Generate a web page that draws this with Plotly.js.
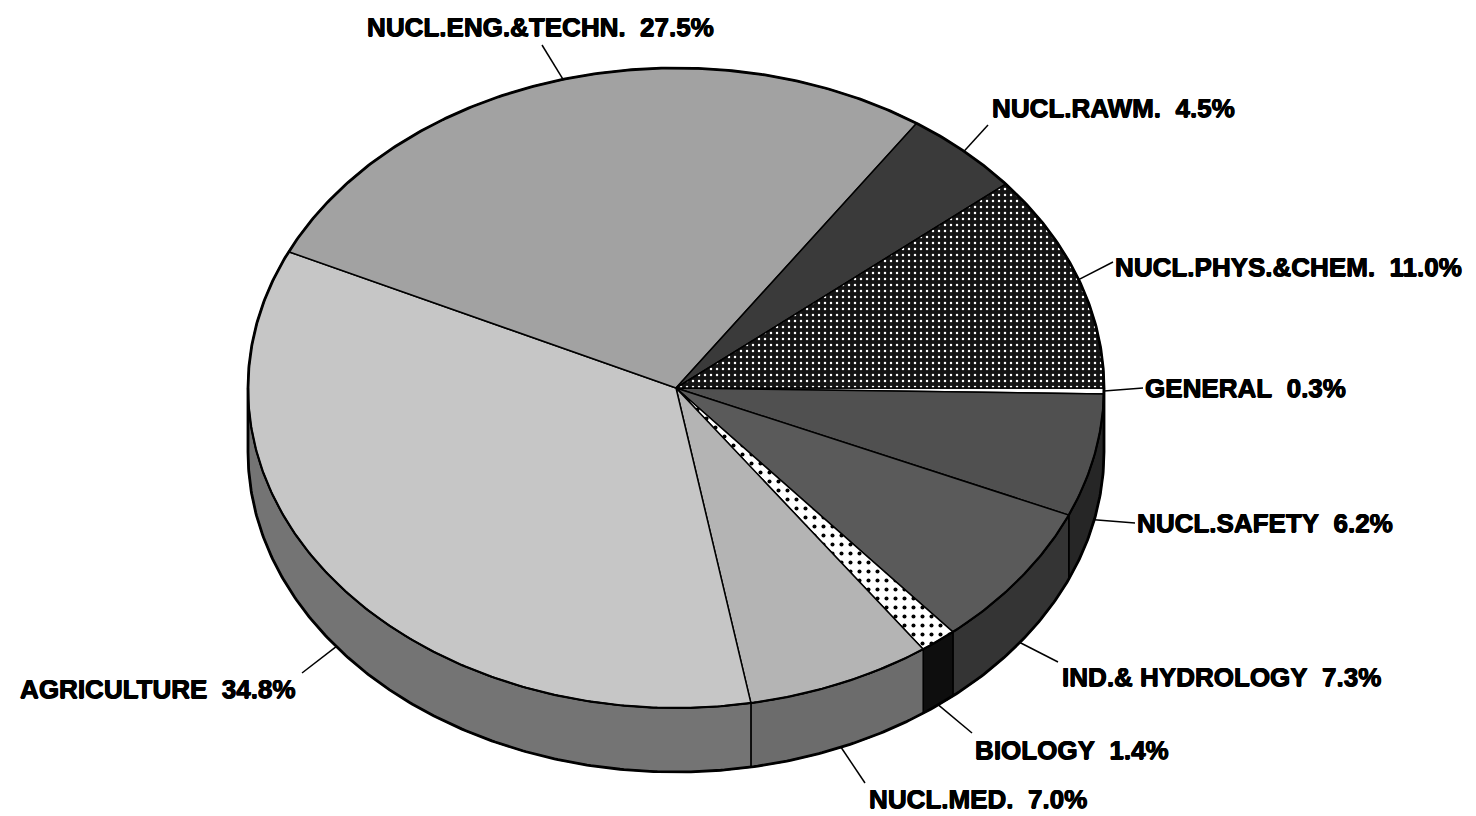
<!DOCTYPE html>
<html><head><meta charset="utf-8">
<script src="https://cdn.plot.ly/plotly-3.0.1.min.js"></script>
<style>html,body{margin:0;padding:0;background:#fff;} #chart{width:1476px;height:816px;}</style>
</head><body><div id="chart"></div>
<script>
// ---- data (clockwise from the 3 o'clock position) ----
const labels = ['GENERAL','NUCL.SAFETY','IND.& HYDROLOGY','BIOLOGY','NUCL.MED.','AGRICULTURE','NUCL.ENG.&TECHN.','NUCL.RAWM.','NUCL.PHYS.&CHEM.'];
const values = [0.3, 6.2, 7.3, 1.4, 7.0, 34.8, 27.5, 4.5, 11.0];

// ---- styles ----
const topColors  = ['#ffffff','#505050','#5a5a5a','#ffffff','#b4b4b4','#c6c6c6','#a2a2a2','#3a3a3a','#141414'];
const sideColors = ['#9a9a9a','#262626','#343434','#0e0e0e','#6c6c6c','#747474','#555555','#222222','#111111'];
const topPatterns = [
  null, null, null,
  {shape:'.', bgcolor:'#ffffff', fgcolor:'#000000', size:9, solidity:0.16},
  null, null, null, null,
  {shape:'.', bgcolor:'#141414', fgcolor:'#ffffff', size:6, solidity:0.14}
];
// label text anchor (left, middle) and leader end points
const labelPos = [[1143,388],[1135,523],[1060,677],[973,750],[867,799],[18,689],[365,27],[990,108],[1113,267]];
const leaderEnd = [[1143,388],[1135,523],[1058,662],[972,733],[865,783],[302,673],[542,45],[988,125],[1113,262]];

// ---- geometry ----
const cx = 676, cy = 388, rx = 428, ry = 320, depth = 64, startDeg = 0;
const rad = d => d * Math.PI / 180;
const px = (d) => cx + rx * Math.cos(rad(d));
const py = (d, dz) => cy + ry * Math.sin(rad(d)) + (dz || 0);

const total = values.reduce((a, b) => a + b, 0);
const spans = [];
let acc = startDeg;
values.forEach(v => { const a0 = acc; acc += v / total * 360; spans.push([a0, acc]); });

function arc(a0, a1, dz) {
  const xs = [], ys = [];
  const n = Math.max(2, Math.ceil(Math.abs(a1 - a0) / 0.5));
  for (let i = 0; i <= n; i++) { const d = a0 + (a1 - a0) * i / n; xs.push(px(d)); ys.push(py(d, dz)); }
  return [xs, ys];
}

const traces = [];
// side walls (front half only: 0..180 deg)
spans.forEach((s, i) => {
  const a0 = Math.max(s[0], 0), a1 = Math.min(s[1], 180);
  if (a1 <= a0) return;
  const [tx, ty] = arc(a0, a1, 0);
  const [bx, by] = arc(a1, a0, depth);
  traces.push({
    type: 'scatter', mode: 'lines', x: tx.concat(bx, [tx[0]]), y: ty.concat(by, [ty[0]]),
    fill: 'toself', fillcolor: sideColors[i], line: {color: '#000', width: 1.5}, hoverinfo: 'skip'
  });
});
// top faces
spans.forEach((s, i) => {
  const [ax, ay] = arc(s[0], s[1], 0);
  const t = {
    type: 'scatter', mode: 'lines', x: [cx].concat(ax, [cx]), y: [cy].concat(ay, [cy]),
    fill: 'toself', fillcolor: topColors[i], line: {color: '#000', width: 1.5}, hoverinfo: 'skip'
  };
  if (topPatterns[i]) t.fillpattern = topPatterns[i];
  traces.push(t);
});
// silhouette outline and front rim
{
  const [bkx, bky] = arc(180, 360, 0);
  const [fx, fy] = arc(0, 180, depth);
  const [rmx, rmy] = arc(0, 180, 0);
  traces.push({
    type: 'scatter', mode: 'lines',
    x: bkx.concat(fx, [bkx[0]]),
    y: bky.concat(fy, [bky[0]]),
    line: {color: '#000', width: 2.8}, hoverinfo: 'skip'
  });
  traces.push({type:'scatter', mode:'lines', x: rmx, y: rmy, line:{color:'#000', width:2.2}, hoverinfo:'skip'});
}
// leader lines and labels
const annotations = [];
spans.forEach((s, i) => {
  const mid = (s[0] + s[1]) / 2;
  const m = ((mid % 360) + 360) % 360;
  const front = m > 5 && m < 175;
  const sx = px(mid), sy = py(mid, front ? depth : 0);
  traces.push({type: 'scatter', mode: 'lines', x: [sx, leaderEnd[i][0]], y: [sy, leaderEnd[i][1]],
    line: {color: '#000', width: 1.5}, hoverinfo: 'skip'});
  annotations.push({
    x: labelPos[i][0], y: labelPos[i][1], xref: 'x', yref: 'y', xanchor: 'left', yanchor: 'middle',
    showarrow: false, text: '<b>' + labels[i] + '\u00a0\u00a0' + values[i].toFixed(1) + '%</b>',
    font: {family: 'Liberation Sans, Arial, sans-serif', size: 26, color: '#000',
           shadow: '0.6px 0 0 #000, -0.4px 0 0 #000, 0 0.5px 0 #000'}
  });
});

const layout = {
  width: 1476, height: 816, margin: {l: 0, r: 0, t: 0, b: 0},
  paper_bgcolor: '#fff', plot_bgcolor: '#fff', showlegend: false,
  xaxis: {range: [0, 1476], visible: false, fixedrange: true},
  yaxis: {range: [816, 0], visible: false, fixedrange: true},
  annotations: annotations
};
Plotly.newPlot('chart', traces, layout, {staticPlot: true, displayModeBar: false});
</script></body></html>
